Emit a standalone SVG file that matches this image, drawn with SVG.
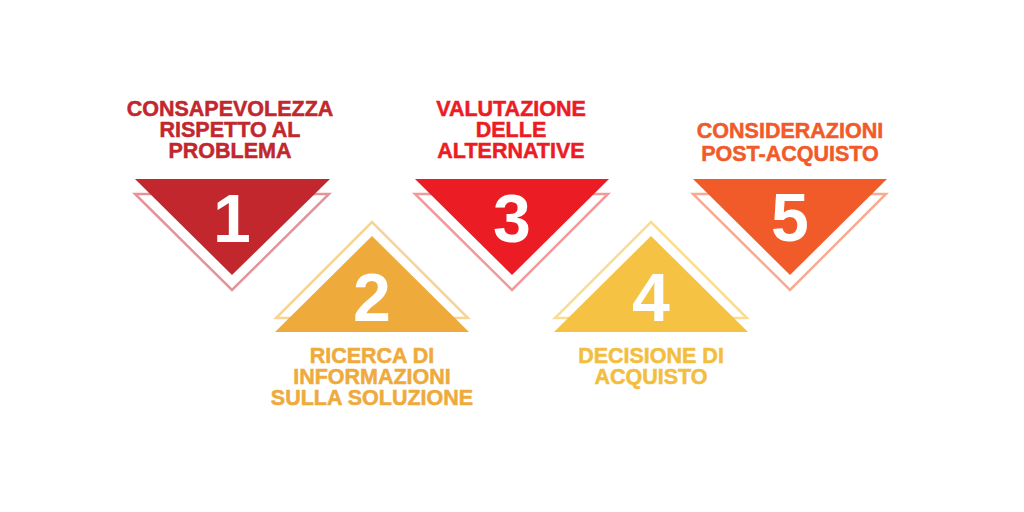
<svg xmlns="http://www.w3.org/2000/svg" width="1024" height="512" viewBox="0 0 1024 512">
<style>
.lbl{font-family:"Liberation Sans",Arial,sans-serif;font-weight:bold;font-size:21.5px;text-anchor:middle;stroke-width:0.5px}
.num{font-family:"Liberation Sans",Arial,sans-serif;font-weight:bold;font-size:68px;text-anchor:middle;fill:#ffffff}
.ol{fill:none;stroke-width:2.5px;stroke-linejoin:miter}
</style>
<rect width="1024" height="512" fill="#ffffff"/>
<g id="connectors"></g>
<g id="step1">
<polygon class="ol" stroke="#e5939a" points="135,194 329,194 232,290"/>
<polygon fill="#c1272d" points="135,179 330,179 232,275"/>
<text class="num" x="232" y="242">1</text>
<text class="lbl" fill="#c1272d" stroke="#c1272d" x="230" y="116">CONSAPEVOLEZZA</text>
<text class="lbl" fill="#c1272d" stroke="#c1272d" x="230" y="137">RISPETTO AL</text>
<text class="lbl" fill="#c1272d" stroke="#c1272d" x="230" y="158">PROBLEMA</text>
</g>
<g id="step2">
<polygon class="ol" stroke="#f6d494" points="276,318 468,318 372,222"/>
<polygon fill="#eeaa3b" points="275,332 469,332 372,236"/>
<text class="num" x="372" y="321">2</text>
<text class="lbl" fill="#eeaa3b" stroke="#eeaa3b" x="372" y="363">RICERCA DI</text>
<text class="lbl" fill="#eeaa3b" stroke="#eeaa3b" x="372" y="384">INFORMAZIONI</text>
<text class="lbl" fill="#eeaa3b" stroke="#eeaa3b" x="372" y="405">SULLA SOLUZIONE</text>
</g>
<g id="step3">
<polygon class="ol" stroke="#f09a9d" points="415,194 608,194 512,290"/>
<polygon fill="#ec1c24" points="415,179 609,179 512,275"/>
<text class="num" x="512" y="242">3</text>
<text class="lbl" fill="#ec1c24" stroke="#ec1c24" x="511" y="116">VALUTAZIONE</text>
<text class="lbl" fill="#ec1c24" stroke="#ec1c24" x="511" y="137">DELLE</text>
<text class="lbl" fill="#ec1c24" stroke="#ec1c24" x="511" y="158">ALTERNATIVE</text>
</g>
<g id="step4">
<polygon class="ol" stroke="#f8dd92" points="555,318 747,318 651,222"/>
<polygon fill="#f5c243" points="554,332 748,332 651,236"/>
<text class="num" x="651" y="321">4</text>
<text class="lbl" fill="#f3bd3e" stroke="#f3bd3e" x="651" y="363">DECISIONE DI</text>
<text class="lbl" fill="#f3bd3e" stroke="#f3bd3e" x="651" y="384">ACQUISTO</text>
</g>
<g id="step5">
<polygon class="ol" stroke="#f7ab92" points="693,194 886,194 790,290"/>
<polygon fill="#f15a29" points="693,179 887,179 790,275"/>
<text class="num" x="790" y="241">5</text>
<text class="lbl" fill="#f15a29" stroke="#f15a29" x="790" y="137.5">CONSIDERAZIONI</text>
<text class="lbl" fill="#f15a29" stroke="#f15a29" x="790" y="160.5">POST-ACQUISTO</text>
</g>
</svg>
